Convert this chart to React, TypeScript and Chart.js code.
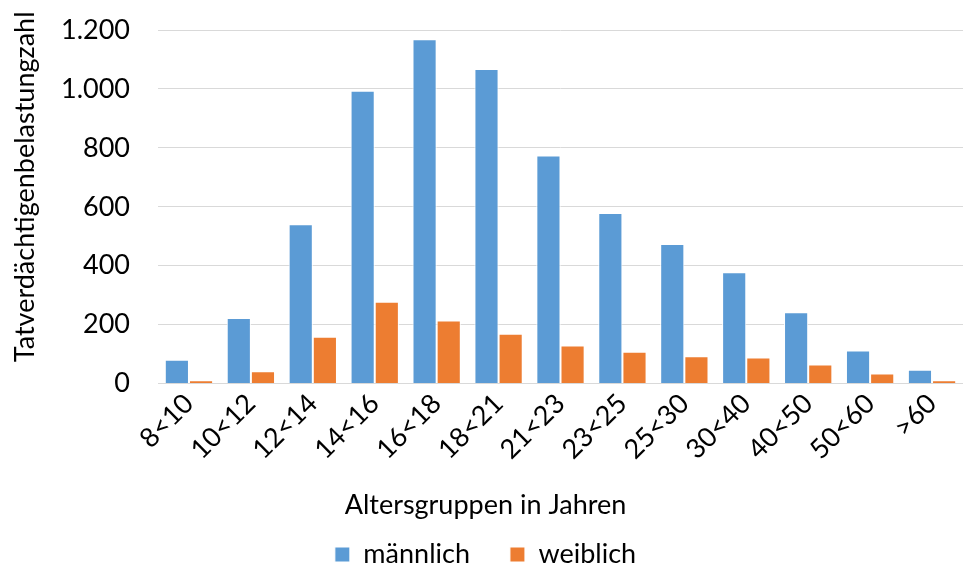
import React, { useEffect, useRef } from 'react';
import { Chart, registerables } from 'chart.js';

Chart.register(...registerables);

const categories = ['8<10', '10<12', '12<14', '14<16', '16<18', '18<21', '21<23', '23<25', '25<30', '30<40', '40<50', '50<60', '>60'];
const maleValues = [81, 223, 541, 994, 1169, 1068, 774, 579, 474, 378, 242, 112, 47];
const femaleValues = [11, 42, 159, 278, 214, 169, 129, 108, 93, 89, 65, 34, 11];
const seriesNames = ['männlich', 'weiblich'];
const yMin = 0;
const yMax = 1200;
const yStep = 200;
const yTitle = 'Tatverdächtigenbelastungzahl';
const xTitle = 'Altersgruppen in Jahren';

const FONT = 'Lato, "Open Sans", sans-serif';
const FS = 27;

function formatDe(v: number): string {
  return String(Math.round(v)).replace(/\B(?=(\d{3})+(?!\d))/g, '.');
}

// Draws the y-axis title slightly above the plot's vertical centre, as in the reference.
const yTitlePlugin = {
  id: 'yTitleOffset',
  afterDraw(chart: any) {
    const { ctx, chartArea } = chart;
    ctx.save();
    ctx.fillStyle = '#000';
    ctx.font = `${FS}px ${FONT}`;
    ctx.textAlign = 'center';
    ctx.textBaseline = 'middle';
    ctx.translate(25, (chartArea.top + chartArea.bottom) / 2 - 20);
    ctx.rotate(-Math.PI / 2);
    ctx.fillText(yTitle, 0, 0);
    ctx.restore();
  },
};

export default function App() {
  const ref = useRef<HTMLCanvasElement | null>(null);

  useEffect(() => {
    if (!ref.current) return;
    const chart = new Chart(ref.current, {
      type: 'bar',
      data: {
        labels: categories,
        datasets: [
          {
            label: seriesNames[0],
            data: maleValues,
            backgroundColor: '#5B9BD5',
            borderColor: '#ffffff',
            borderWidth: 1,
            categoryPercentage: 0.78,
            barPercentage: 1,
          },
          {
            label: seriesNames[1],
            data: femaleValues,
            backgroundColor: '#ED7D31',
            borderColor: '#ffffff',
            borderWidth: 1,
            categoryPercentage: 0.78,
            barPercentage: 1,
          },
        ],
      },
      plugins: [yTitlePlugin],
      options: {
        animation: false,
        responsive: false,
        maintainAspectRatio: false,
        layout: { padding: { top: 0, left: 8, right: 0, bottom: -10 } },
        plugins: {
          legend: {
            position: 'bottom',
            weight: 1000,
            labels: {
              boxWidth: 15,
              boxHeight: 15,
              padding: 40,
              color: '#000',
              font: { family: FONT, size: FS },
            },
          },
          title: {
            display: true,
            position: 'bottom',
            weight: 500,
            text: xTitle,
            color: '#000',
            font: { family: FONT, size: FS, weight: 'normal' },
            padding: { top: 14, bottom: -20 },
          },
          tooltip: { enabled: false },
        },
        scales: {
          x: {
            grid: { display: false, drawTicks: false },
            border: { display: true, color: '#d9d9d9', width: 1 },
            ticks: {
              color: '#000',
              font: { family: FONT, size: FS },
              minRotation: 45,
              maxRotation: 45,
              padding: 4,
            },
            afterFit: (s: any) => {
              s.height = 91;
            },
          },
          y: {
            min: yMin,
            max: yMax,
            grid: { color: '#d9d9d9', lineWidth: 1, drawTicks: false },
            border: { display: false },
            ticks: {
              stepSize: yStep,
              color: '#000',
              font: { family: FONT, size: FS, lineHeight: 0.15 },
              padding: 28,
              callback: (v: any) => formatDe(Number(v)),
            },
            title: { display: false },
            afterFit: (s: any) => {
              s.width = 150;
            },
          },
        },
      },
    });
    return () => chart.destroy();
  }, []);

  return (
    <div style={{ position: 'fixed', left: 0, top: 0, width: 963, height: 568, background: '#fff' }}>
      <canvas ref={ref} width={963} height={568} style={{ width: 963, height: 568 }} />
    </div>
  );
}
